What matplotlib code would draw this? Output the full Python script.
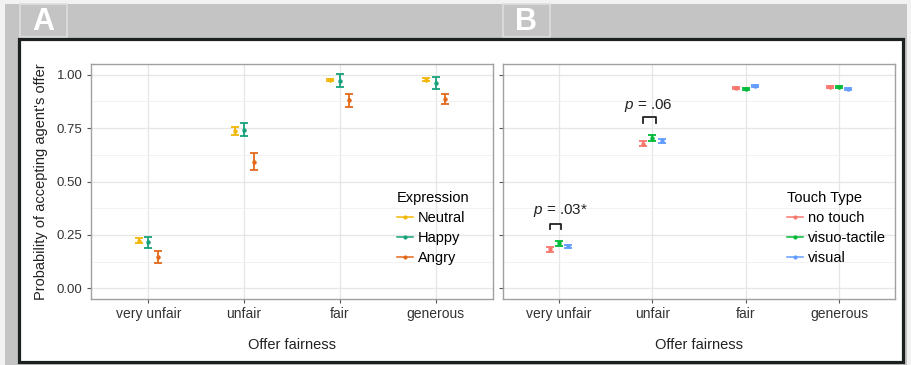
import numpy as np
import matplotlib
matplotlib.use("Agg")
import matplotlib.pyplot as plt
from matplotlib.patches import Rectangle
from matplotlib.lines import Line2D

plt.rcParams['font.family'] = ['Liberation Sans', 'DejaVu Sans']
plt.rcParams['mathtext.fontset'] = 'custom'
plt.rcParams['mathtext.it'] = 'Liberation Sans:italic'

# offer fairness categories
categories = ['very unfair', 'unfair', 'fair', 'generous']

# panel A: expression
neutral = [0.222, 0.737, 0.977, 0.977]
neutral_err = [0.012, 0.020, 0.005, 0.008]
happy = [0.215, 0.742, 0.972, 0.960]
happy_err = [0.027, 0.030, 0.029, 0.028]
angry = [0.147, 0.593, 0.880, 0.886]
angry_err = [0.027, 0.039, 0.030, 0.023]

# panel B: touch type
no_touch = [0.182, 0.676, 0.937, 0.942]
no_touch_err = [0.010, 0.012, 0.004, 0.004]
visuo_tactile = [0.210, 0.703, 0.934, 0.942]
visuo_tactile_err = [0.013, 0.013, 0.005, 0.005]
visual = [0.197, 0.690, 0.948, 0.934]
visual_err = [0.007, 0.010, 0.005, 0.005]

yticks = [0.0, 0.25, 0.5, 0.75, 1.0]
ytick_labels = ['0.00', '0.25', '0.50', '0.75', '1.00']

W, H = 912, 365
fig = plt.figure(figsize=(W / 100, H / 100), dpi=100)
fig.patch.set_facecolor('#f2f2f2')


def px(x0, y0, x1, y1):
    # pixel box (top-left origin) -> figure fraction rect
    return [x0 / W, 1 - y1 / H, (x1 - x0) / W, (y1 - y0) / H]


def frect(x0, y0, x1, y1, z, **kw):
    r = px(x0, y0, x1, y1)
    fig.patches.append(Rectangle((r[0], r[1]), r[2], r[3], transform=fig.transFigure, zorder=z, **kw))


# gray backdrop, tabs and framed white panel
frect(5, 4, 907, 365, -5, facecolor='#c4c4c4', edgecolor='none')
frect(20, 4, 67, 37, -4, facecolor='#c4c4c4', edgecolor='#dedede', linewidth=1.2)
frect(503, 4, 550, 37, -4, facecolor='#c4c4c4', edgecolor='#dedede', linewidth=1.2)
frect(19, 39, 903, 362, -3, facecolor='white', edgecolor='#1c2020', linewidth=2.3)
fig.text(43.5 / W, 1 - 22 / H, 'A', color='white', fontsize=22, fontweight='bold', ha='center', va='center')
fig.text(526.5 / W, 1 - 22 / H, 'B', color='white', fontsize=22, fontweight='bold', ha='center', va='center')

axA = fig.add_axes(px(91, 64, 493, 299))
axB = fig.add_axes(px(503, 64, 895, 299))

x = np.arange(1, len(categories) + 1)
dodge = 0.1


def style(ax, show_labels):
    ax.set_xlim(0.4, 4.6)
    ax.set_ylim(-0.05, 1.05)
    ax.set_xticks(x)
    ax.set_xticklabels(categories, fontsize=10, color='#333333')
    ax.set_yticks(yticks)
    if show_labels:
        ax.set_yticklabels(ytick_labels, fontsize=9.5, color='#333333')
    else:
        ax.set_yticklabels([])
    ax.set_yticks([0.125, 0.375, 0.625, 0.875], minor=True)
    ax.grid(True, which='major', color='#e6e6e6', linewidth=0.9)
    ax.grid(True, which='minor', axis='y', color='#f0f0f0', linewidth=0.6)
    ax.set_axisbelow(True)
    ax.tick_params(which='major', length=3, color='#555555', pad=3)
    ax.tick_params(which='minor', length=0)
    for s in ax.spines.values():
        s.set_color('#a0a0a0')
        s.set_linewidth(1.0)
    ax.set_xlabel('Offer fairness', fontsize=10.5, color='#222222', labelpad=12)


def draw(ax, series, colors):
    offs = [-dodge, 0, dodge]
    for (m, e), c, o in zip(series, colors, offs):
        ax.errorbar(x + o, m, yerr=e, fmt='o', color=c, markersize=2.2,
                    capsize=2.8, elinewidth=1.3, capthick=1.3)
    return [Line2D([], [], color=c, marker='o', markersize=2, linewidth=1.1) for c in colors]


style(axA, True)
style(axB, False)

colA = ['#f2b705', '#17a27c', '#e3691a']
hA = draw(axA, [(neutral, neutral_err), (happy, happy_err), (angry, angry_err)], colA)
axA.set_ylabel("Probability of accepting agent's offer", fontsize=10.5, color='#222222', labelpad=6)
axA.legend(hA, ['Neutral', 'Happy', 'Angry'], title='Expression', frameon=False,
           loc='upper left', bbox_to_anchor=(0.728, 0.517), fontsize=10.5, title_fontsize=10.5,
           handlelength=1.1, handletextpad=0.35, labelspacing=0.42, alignment='left')

colB = ['#f8766d', '#00ba38', '#619cff']
hB = draw(axB, [(no_touch, no_touch_err), (visuo_tactile, visuo_tactile_err), (visual, visual_err)], colB)
axB.legend(hB, ['no touch', 'visuo-tactile', 'visual'], title='Touch Type', frameon=False,
           loc='upper left', bbox_to_anchor=(0.69, 0.517), fontsize=10.5, title_fontsize=10.5,
           handlelength=1.1, handletextpad=0.35, labelspacing=0.42, alignment='left')

# significance brackets
axB.plot([0.9, 0.9, 1.02, 1.02], [0.28, 0.30, 0.30, 0.28], color='#222222', linewidth=1.3)
axB.text(1.02, 0.366, '$p$ = .03*', ha='center', va='center', fontsize=11, color='#222222')
axB.plot([1.9, 1.9, 2.04, 2.04], [0.775, 0.80, 0.80, 0.775], color='#222222', linewidth=1.3)
axB.text(1.96, 0.855, '$p$ = .06', ha='center', va='center', fontsize=11, color='#222222')

fig.savefig('out.png', dpi=100, facecolor=fig.get_facecolor())
